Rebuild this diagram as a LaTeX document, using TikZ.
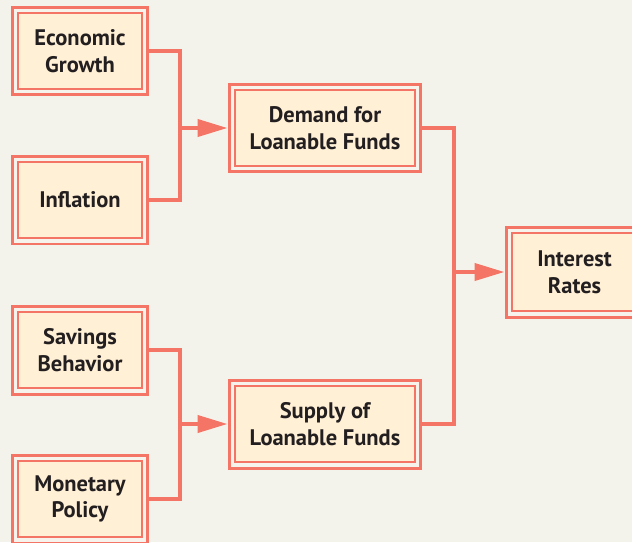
\documentclass[tikz,border=0pt]{standalone}
\usepackage{fontspec}
\setmainfont{PT Sans}
\usepackage{tikz}
\usetikzlibrary{arrows.meta, positioning, calc}
\definecolor{mSalmon}{HTML}{F47466}
\definecolor{mCream}{HTML}{FFF0D6}
\definecolor{mGap}{HTML}{F6F2EC}
\definecolor{mBack}{HTML}{F3F3EB}
\definecolor{mText}{HTML}{231F20}

\tikzset{
  factor/.style={draw=mSalmon, line width=0.06cm, fill=mGap, text=mText,
    minimum width=2.72cm, minimum height=1.76cm, align=center,
    font=\fontsize{12.8}{15.2}\selectfont\bfseries,
    path picture={\draw[mSalmon, line width=0.025cm, fill=mCream]
      ([shift={(0.12cm,0.12cm)}]path picture bounding box.south west) rectangle
      ([shift={(-0.12cm,-0.12cm)}]path picture bounding box.north east);}},
  widefactor/.style={factor, minimum width=3.84cm},
  link/.style={draw=mSalmon, line width=0.08cm},
  feed/.style={link, -{Triangle[length=0.6cm, width=0.34cm]}}
}

\begin{document}
\begin{tikzpicture}[x=0.02cm, y=-0.02cm]
    \fill[mBack] (0,0) rectangle (632,542);
    \useasboundingbox (0,0) rectangle (632,542);
    \clip (0,0) rectangle (632,542);
    % left column of causes
    \node[factor] (growth) at (80,51) {Economic\\Growth};
    \node[factor] (inflation) at (80,200) {Inflation};
    \node[factor] (savings) at (80,350) {Savings\\Behavior};
    \node[factor] (monetary) at (80,499) {Monetary\\Policy};
    % middle and right
    \node[widefactor] (demand) at (325,128) {Demand for\\Loanable Funds};
    \node[widefactor] (supply) at (325,424) {Supply of\\Loanable Funds};
    \node[factor, minimum width=2.74cm, minimum height=1.8cm] (rates) at (574.5,272) {Interest\\Rates};
    % junctions
    \coordinate (jdemand) at (180,128);
    \coordinate (jsupply) at (180,424);
    \coordinate (jrates) at (454,272);
    \draw[link] (growth.east) -| (jdemand) |- (inflation.east);
    \draw[link] (savings.east) -| (jsupply) |- (monetary.east);
    \draw[link] (demand.east) -| (jrates) |- (supply.east);
    \draw[feed] ([xshift=-0.04cm]jdemand) -- (demand.west);
    \draw[feed] ([xshift=-0.04cm]jsupply) -- (supply.west);
    \draw[feed] ([xshift=-0.04cm]jrates) -- (rates.west);
  \end{tikzpicture}
\end{document}
